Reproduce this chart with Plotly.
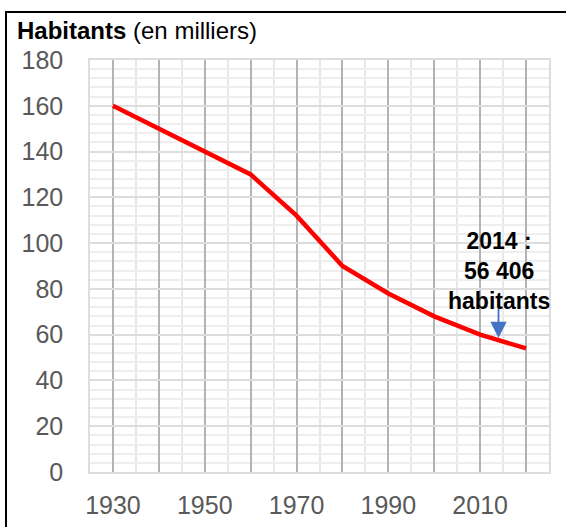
import plotly.graph_objects as go

years = [1930, 1940, 1950, 1960, 1970, 1980, 1990, 2000, 2010, 2020]
habitants = [160, 150, 140, 130, 112, 90, 78, 68, 60, 54]

x_tickvals = [1930, 1940, 1950, 1960, 1970, 1980, 1990, 2000, 2010, 2020]
x_ticktext = ["1930", "", "1950", "", "1970", "", "1990", "", "2010", ""]
y_tickvals = [0, 20, 40, 60, 80, 100, 120, 140, 160, 180]

note_year = 2014
note_value = 56.406
note_text = "<b>2014 :<br>56 406<br>habitants</b>"
title_text = "<b>Habitants</b> (en milliers)"

FONT = "Liberation Sans, Arial, sans-serif"

fig = go.Figure()
fig.add_trace(go.Scatter(
    x=years, y=habitants, mode="lines",
    line=dict(color="#FF0000", width=4.5),
    hoverinfo="skip", showlegend=False,
))

fig.update_layout(
    width=566, height=527,
    margin=dict(l=90, r=17, t=60, b=55),
    paper_bgcolor="white", plot_bgcolor="white",
    font=dict(family=FONT, color="#595959", size=25),
    xaxis=dict(
        range=[1925, 2025],
        tickvals=x_tickvals, ticktext=x_ticktext,
        showgrid=True, gridcolor="#B3B3B3", gridwidth=2,
        minor=dict(tick0=1925, dtick=5, showgrid=True, gridcolor="#E8E8E8", gridwidth=1.5),
        showline=True, mirror=True, linecolor="#DDDDDD", linewidth=1.5,
        zeroline=False, ticks="", ticklabelstandoff=10,
        tickfont=dict(size=25, color="#595959"),
        automargin=False,
    ),
    yaxis=dict(
        range=[0, 180],
        tickvals=y_tickvals,
        showgrid=True, gridcolor="#DDDDDD", gridwidth=1.5,
        minor=dict(tick0=0, dtick=4, showgrid=True, gridcolor="#EEEEEE", gridwidth=1.5),
        showline=True, mirror=True, linecolor="#DDDDDD", linewidth=1.5,
        zeroline=False, ticks="", ticklabelstandoff=20,
        tickfont=dict(size=25, color="#595959"),
        automargin=False,
    ),
    annotations=[
        dict(
            x=note_year, y=note_value, xref="x", yref="y",
            text="", showarrow=True,
            ax=0, ay=-41, arrowhead=2, arrowsize=1.8, arrowwidth=1.8,
            arrowcolor="#4472C4", standoff=5,
        ),
        dict(
            x=note_year, y=note_value, xref="x", yref="y",
            text=note_text, showarrow=False, yshift=72,
            xanchor="center", yanchor="middle",
            font=dict(family=FONT, size=23, color="black"),
        ),
        dict(
            x=(15 - 90) / 459, y=1 + (60 - 30) / 412, xref="paper", yref="paper",
            xanchor="left", yanchor="middle", showarrow=False,
            text=title_text,
            font=dict(family=FONT, size=24, color="black"),
        ),
    ],
    shapes=[
        dict(
            type="rect", xref="paper", yref="paper",
            x0=(6 - 90) / 459, x1=(580 - 90) / 459,
            y0=-(540 - 472) / 412, y1=1 + (60 - 12) / 412,
            line=dict(color="black", width=2), fillcolor="rgba(0,0,0,0)",
            layer="above",
        )
    ],
)

fig.write_html("out.html", config={"displayModeBar": False},
               post_script="document.body.style.margin='0';")
